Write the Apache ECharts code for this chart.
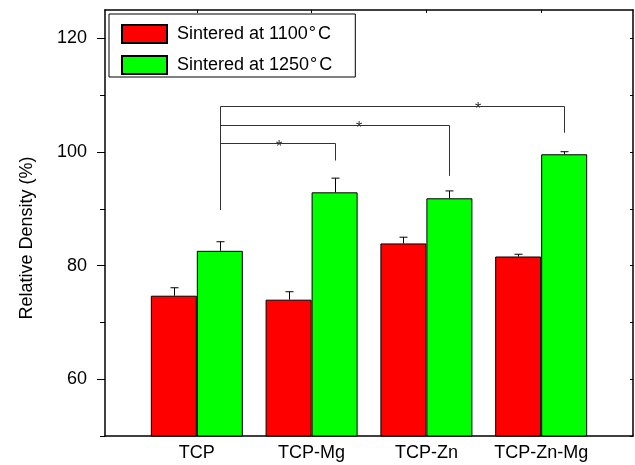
<!DOCTYPE html>
<html><head><meta charset="utf-8">
<script src="https://cdn.jsdelivr.net/npm/echarts@6/dist/echarts.min.js"></script>
<style>html,body{margin:0;padding:0;background:#fff}#c{width:635px;height:465px}</style>
</head><body><div id="c"></div>
<script>
// ---- data ----
const categories = ['TCP', 'TCP-Mg', 'TCP-Zn', 'TCP-Zn-Mg'];
const catPositions = [1, 2, 3, 4];
const density1100 = [74.7, 74.0, 83.9, 81.6];
const error1100 = [1.4, 1.4, 1.1, 0.4];
const density1250 = [82.6, 92.9, 91.85, 99.6];
const error1250 = [1.6, 2.5, 1.3, 0.45];
const yLabelTicks = [60, 80, 100, 120];
const yAllTicks = [50, 60, 70, 80, 90, 100, 110, 120];
// significance brackets from TCP (1250 °C) to each target group
const bracketTargets = [2, 3, 4];
const bracketLevels = [101.5, 104.8, 108.1];
const bracketDropEnds = [98.5, 95.8, 103.4];
const bracketStartBottom = 89.8;
const starPositions = [1.716, 2.413, 3.45];
const seriesNames = ['Sintered at 1100°C', 'Sintered at 1250°C'];

// ---- build ----
const BAR_W = 46;
const font = 'Liberation Sans, Arial, sans-serif';
const zip = (a, b) => a.map((v, i) => [a[i], b[i]]);
const errData = (vals, errs) => catPositions.map((p, i) => [p, vals[i], errs[i]]);
const bracketData = bracketTargets.map((t, i) => [t, bracketLevels[i], bracketDropEnds[i], starPositions[i]]);

function errRender(side) {
  return function (params, api) {
    const x = api.value(0), v = api.value(1), e = api.value(2);
    const base = api.coord([x, v]);
    const top = api.coord([x, v + e]);
    const cx = Math.round(base[0] + side * BAR_W / 2) + 0.5;
    const st = { stroke: '#000', lineWidth: 1 };
    return { type: 'group', children: [
      { type: 'line', shape: { x1: cx, y1: base[1], x2: cx, y2: top[1] }, style: st },
      { type: 'line', shape: { x1: cx - 4, y1: top[1], x2: cx + 4, y2: top[1] }, style: st }
    ]};
  };
}

function bracketRender(params, api) {
  const target = api.value(0), level = api.value(1), dropEnd = api.value(2), sx = api.value(3);
  const off = BAR_W / 2;
  const pStart = api.coord([catPositions[0], level]);
  const pBottom = api.coord([catPositions[0], bracketStartBottom]);
  const pEnd = api.coord([target, level]);
  const pDrop = api.coord([target, dropEnd]);
  const pStar = api.coord([sx, level]);
  const x0 = Math.round(pStart[0] + off) + 0.5;
  const x1 = Math.round(pEnd[0] + off) + 0.5;
  const y = Math.round(pStart[1]) + 0.5;
  const st = { stroke: '#333', lineWidth: 1 };
  return { type: 'group', children: [
    { type: 'line', shape: { x1: x0, y1: pBottom[1], x2: x0, y2: y }, style: st },
    { type: 'line', shape: { x1: x0, y1: y, x2: x1, y2: y }, style: st },
    { type: 'line', shape: { x1: x1, y1: y, x2: x1, y2: pDrop[1] }, style: st },
    { type: 'text', x: pStar[0], y: pStar[1] + 4, style: { text: '*', fontSize: 16, fontFamily: font, fill: '#333', align: 'center', verticalAlign: 'middle' } }
  ]};
}

const axisLineStyle = { color: '#000', width: 1.5 };

const option = {
  animation: false,
  backgroundColor: '#fff',
  grid: { left: 105, right: 2, top: 10, bottom: 29 },
  legend: {
    data: seriesNames,
    orient: 'vertical',
    left: 109, top: 14,
    padding: [10, 23, 2, 12],
    itemWidth: 45, itemHeight: 18, itemGap: 11,
    borderColor: '#000', borderWidth: 1,
    icon: 'rect',
    formatter: n => n.replace('°', '{deg|°}'),
    textStyle: {
      fontSize: 18, color: '#000', fontFamily: font, padding: [0, 0, 0, 5],
      rich: { deg: { fontSize: 18, fontFamily: font, color: '#000', padding: [0, 2, 0, 1] } }
    }
  },
  xAxis: [
    {
      type: 'value', min: 0.2, max: 4.8, position: 'bottom',
      splitLine: { show: false },
      axisLine: { show: true, lineStyle: axisLineStyle },
      axisTick: { show: false },
      axisLabel: {
        customValues: catPositions,
        formatter: v => categories[catPositions.indexOf(Math.round(v))] || '',
        fontSize: 18, color: '#000', fontFamily: font, margin: 8
      }
    },
    {
      type: 'value', min: 0.2, max: 4.8, position: 'top',
      splitLine: { show: false },
      axisLine: { show: true, lineStyle: axisLineStyle },
      axisTick: { show: true, inside: true, length: 3, customValues: catPositions, lineStyle: { color: '#000', width: 1 } },
      axisLabel: { show: false }
    }
  ],
  yAxis: [
    {
      type: 'value', min: 50, max: 125, position: 'left',
      splitLine: { show: false },
      axisLine: { show: true, lineStyle: axisLineStyle },
      axisTick: { show: true, length: 5, customValues: yAllTicks, lineStyle: { color: '#000', width: 1 } },
      axisLabel: { customValues: yLabelTicks, fontSize: 18, color: '#000', fontFamily: font, margin: 18 },
      name: 'Relative Density (%)', nameLocation: 'middle', nameGap: 69,
      nameTextStyle: { fontSize: 18, color: '#000', fontFamily: font, padding: [0, 30, 0, 0] }
    },
    {
      type: 'value', min: 50, max: 125, position: 'left',
      splitLine: { show: false },
      axisLine: { show: false },
      axisTick: { show: true, length: 8, customValues: yLabelTicks, lineStyle: { color: '#000', width: 1 } },
      axisLabel: { show: false }
    },
    {
      type: 'value', min: 50, max: 125, position: 'right',
      splitLine: { show: false },
      axisLine: { show: true, lineStyle: axisLineStyle },
      axisTick: { show: true, inside: true, length: 3, customValues: yAllTicks, lineStyle: { color: '#000', width: 1 } },
      axisLabel: { show: false }
    }
  ],
  series: [
    {
      name: seriesNames[0], type: 'bar', xAxisIndex: 0, yAxisIndex: 0,
      barWidth: BAR_W, barGap: '0%',
      itemStyle: { color: '#ff0000', borderColor: '#000', borderWidth: 1 },
      data: zip(catPositions, density1100)
    },
    {
      name: seriesNames[1], type: 'bar', xAxisIndex: 0, yAxisIndex: 0,
      barWidth: BAR_W, barGap: '0%',
      itemStyle: { color: '#00ff00', borderColor: '#000', borderWidth: 1 },
      data: zip(catPositions, density1250)
    },
    { type: 'custom', xAxisIndex: 0, yAxisIndex: 0, renderItem: errRender(-1), data: errData(density1100, error1100), z: 3 },
    { type: 'custom', xAxisIndex: 0, yAxisIndex: 0, renderItem: errRender(1), data: errData(density1250, error1250), z: 3 },
    { type: 'custom', xAxisIndex: 0, yAxisIndex: 0, renderItem: bracketRender, data: bracketData, z: 3 }
  ]
};

const chart = echarts.init(document.getElementById('c'), null, { renderer: 'canvas' });
chart.setOption(option);
</script>
</body></html>
